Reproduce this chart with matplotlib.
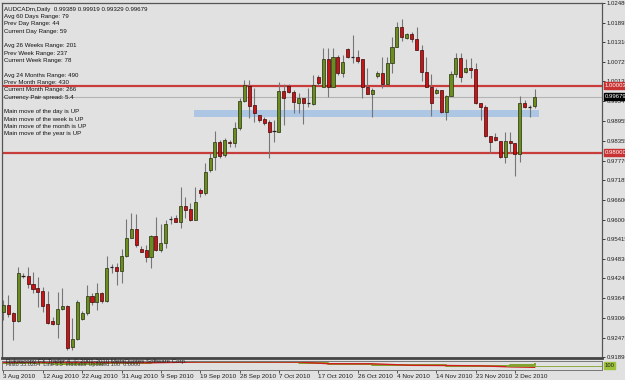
import numpy as np
import matplotlib.pyplot as plt
from matplotlib.patches import Rectangle

plt.rcParams['font.family'] = ['Liberation Sans', 'DejaVu Sans']

# daily AUDCAD candles, 3 Aug 2010 .. 7 Dec 2010
opens = [0.9324, 0.9345, 0.9321, 0.9297, 0.9432, 0.9432, 0.9408, 0.9396, 0.9387, 0.9348,
         0.9297, 0.9288, 0.9333, 0.9342, 0.9219, 0.9243, 0.9303, 0.9321, 0.9372, 0.9354,
         0.9381, 0.9357, 0.9459, 0.9459, 0.9447, 0.9492, 0.9545, 0.9572, 0.9512, 0.9509,
         0.9489, 0.9551, 0.9509, 0.9530, 0.9602, 0.9605, 0.9593, 0.9641, 0.9632, 0.9599,
         0.9689, 0.9680, 0.9749, 0.9788, 0.9832, 0.9794, 0.9832, 0.9829, 0.9874, 0.9955,
         1.0000, 0.9943, 0.9913, 0.9901, 0.9892, 0.9865, 0.9862, 0.9985, 1.0000, 0.9982,
         0.9949, 0.9964, 0.9949, 0.9946, 1.0027, 0.9997, 1.0081, 0.9997, 1.0087, 1.0039,
         1.0110, 1.0087, 1.0087, 1.0081, 0.9997, 0.9976, 1.0030, 1.0039, 1.0006, 1.0069,
         1.0116, 1.0176, 1.0143, 1.0155, 1.0140, 1.0107, 1.0042, 0.9997, 0.9979, 0.9988,
         0.9922, 0.9970, 1.0036, 1.0084, 1.0042, 1.0054, 1.0051, 0.9949, 0.9937, 0.9850,
         0.9847, 0.9835, 0.9788, 0.9835, 0.9829, 0.9797, 0.9949, 0.9937, 0.99389]
highs = [0.9360, 0.9375, 0.9324, 0.9459, 0.9441, 0.9459, 0.9444, 0.9429, 0.9399, 0.9387,
         0.9309, 0.9384, 0.9396, 0.9345, 0.9306, 0.9360, 0.9327, 0.9405, 0.9381, 0.9411,
         0.9384, 0.9492, 0.9468, 0.9471, 0.9512, 0.9602, 0.9620, 0.9617, 0.9521, 0.9524,
         0.9554, 0.9608, 0.9587, 0.9599, 0.9611, 0.9614, 0.9698, 0.9668, 0.9650, 0.9698,
         0.9695, 0.9770, 0.9800, 0.9865, 0.9838, 0.9844, 0.9838, 0.9892, 0.9964, 1.0018,
         1.0018, 0.9994, 0.9913, 0.9907, 0.9898, 0.9898, 1.0012, 1.0006, 1.0006, 0.9988,
         0.9979, 0.9964, 0.9994, 1.0033, 1.0033, 1.0113, 1.0113, 1.0113, 1.0093, 1.0093,
         1.0113, 1.0152, 1.0107, 1.0081, 1.0054, 0.9994, 1.0045, 1.0087, 1.0087, 1.0146,
         1.0191, 1.0200, 1.0158, 1.0161, 1.0176, 1.0122, 1.0087, 1.0036, 0.9994, 0.9988,
         0.9973, 1.0045, 1.0098, 1.0098, 1.0081, 1.0084, 1.0069, 0.9949, 0.9943, 0.9850,
         0.9859, 0.9835, 0.9862, 0.9862, 0.9829, 0.9970, 0.9958, 0.9943, 0.99919]
lows = [0.9300, 0.9309, 0.9240, 0.9294, 0.9426, 0.9396, 0.9381, 0.9339, 0.9324, 0.9288,
        0.9285, 0.9246, 0.9330, 0.9211, 0.9211, 0.9240, 0.9300, 0.9315, 0.9345, 0.9330,
        0.9351, 0.9354, 0.9441, 0.9405, 0.9411, 0.9489, 0.9545, 0.9518, 0.9504, 0.9474,
        0.9456, 0.9507, 0.9504, 0.9515, 0.9587, 0.9593, 0.9575, 0.9605, 0.9596, 0.9599,
        0.9668, 0.9674, 0.9743, 0.9749, 0.9785, 0.9788, 0.9817, 0.9817, 0.9868, 0.9952,
        0.9904, 0.9892, 0.9892, 0.9883, 0.9785, 0.9832, 0.9862, 0.9883, 0.9979, 0.9919,
        0.9919, 0.9886, 0.9937, 0.9943, 1.0003, 0.9997, 0.9967, 0.9997, 1.0033, 1.0027,
        1.0084, 1.0069, 1.0069, 0.9964, 0.9976, 0.9907, 1.0024, 0.9994, 1.0003, 1.0039,
        1.0116, 1.0134, 1.0140, 1.0131, 1.0107, 1.0015, 0.9997, 0.9910, 0.9976, 0.9919,
        0.9898, 0.9970, 1.0027, 1.0012, 1.0039, 1.0024, 0.9946, 0.9898, 0.9847, 0.9800,
        0.9835, 0.9785, 0.9770, 0.9800, 0.9731, 0.9773, 0.9934, 0.9907, 0.99329]
closes = [0.9345, 0.9318, 0.9297, 0.9441, 0.9432, 0.9408, 0.9393, 0.9384, 0.9342, 0.9291,
          0.9288, 0.9333, 0.9342, 0.9217, 0.9243, 0.9354, 0.9321, 0.9372, 0.9354, 0.9381,
          0.9357, 0.9456, 0.9459, 0.9447, 0.9492, 0.9545, 0.9572, 0.9524, 0.9504, 0.9489,
          0.9551, 0.9509, 0.9530, 0.9587, 0.9602, 0.9593, 0.9641, 0.9629, 0.9599, 0.9653,
          0.9680, 0.9743, 0.9785, 0.9832, 0.9791, 0.9838, 0.9829, 0.9874, 0.9955, 1.0003,
          0.9940, 0.9919, 0.9898, 0.9889, 0.9862, 0.9865, 0.9985, 0.9964, 0.9982, 0.9952,
          0.9964, 0.9949, 0.9949, 1.0003, 1.0009, 1.0081, 0.9997, 1.0087, 1.0039, 1.0072,
          1.0087, 1.0087, 1.0075, 0.9997, 0.9976, 0.9988, 1.0039, 1.0006, 1.0069, 1.0116,
          1.0176, 1.0146, 1.0155, 1.0140, 1.0107, 1.0042, 0.9997, 0.9949, 0.9988, 0.9922,
          0.9970, 1.0036, 1.0084, 1.0027, 1.0054, 1.0048, 0.9949, 0.9937, 0.9850, 0.9832,
          0.9838, 0.9788, 0.9835, 0.9829, 0.9797, 0.9949, 0.9937, 0.9937, 0.99679]

date_labels = ['3 Aug 2010', '12 Aug 2010', '22 Aug 2010', '31 Aug 2010', '9 Sep 2010',
               '19 Sep 2010', '28 Sep 2010', '7 Oct 2010', '17 Oct 2010', '26 Oct 2010',
               '4 Nov 2010', '14 Nov 2010', '23 Nov 2010', '2 Dec 2010']
date_bars = [0, 8, 16, 24, 32, 40, 48, 56, 64, 72, 80, 88, 96, 104]

price_ticks = [1.02480, 1.01895, 1.01310, 1.00725, 1.00135, 0.99547, 0.98955, 0.98355,
               0.97770, 0.97185, 0.96600, 0.96000, 0.95415, 0.94830, 0.94245, 0.93645,
               0.93060, 0.92475, 0.91890]

info_lines = ['AUDCADm,Daily  0.99389 0.99919 0.99329 0.99679',
              'Avg 60 Days Range: 79', 'Prev Day Range: 44', 'Current Day Range: 59', '',
              'Avg 26 Weeks Range: 201', 'Prev Week Range: 237', 'Current Week Range: 78', '',
              'Avg 24 Months Range: 490', 'Prev Month Range: 430', 'Current Month Range: 266',
              'Currency Pair spread: 5.4', '',
              'Main move of the day is UP', 'Main move of the week is UP',
              'Main move of the month is UP', 'Main move of the year is UP']

resistance = 1.00003
support = 0.98000
zone_low, zone_high = 0.9907, 0.9928
zone_start, zone_end = 38.8, 108.8

# small indicator sub window
ind_bars = [0, 10, 20, 30, 40, 50, 60, 66, 75, 83, 90, 97, 103, 108]
ind_red = [168, 170, 166, 160, 178, 178, 176, 140, 138, 104, 100, 92, 70, 60]
ind_green = [150, 140, 160, 170, 185, 180, 150, 130, 120, 110, 100, 90, 120, 130]

BG = '#e1e1e1'
BULL = '#6b8c1f'
BEAR = '#c81414'

fig = plt.figure(figsize=(6.25, 3.8), dpi=100, facecolor=BG)
ax = fig.add_axes([2 / 625, 1 - 358 / 380, 600 / 625, 355 / 380], facecolor=BG)
sub = fig.add_axes([2 / 625, 1 - 370 / 380, 600 / 625, 9 / 380], facecolor=BG, sharex=ax)

o = np.array(opens)
h = np.array(highs)
l = np.array(lows)
c = np.array(closes)
x = np.arange(len(o))
up = c >= o

ax.axhline(closes[-1], color='#b4b4b4', lw=0.8, zorder=1)
ax.add_patch(Rectangle((zone_start, zone_low), zone_end - zone_start, zone_high - zone_low,
                       facecolor='#adc6e4', edgecolor='none', zorder=1))
ax.axhline(resistance, color='#c83c3c', lw=1.6, zorder=1)
ax.axhline(support, color='#c83c3c', lw=1.6, zorder=1)

ax.vlines(x, l, h, color='#767676', lw=0.8, zorder=2)
body_lo = np.minimum(o, c)
body_h = np.abs(c - o)
doji = body_h < 0.0002
ax.bar(x[~doji & up], body_h[~doji & up], bottom=body_lo[~doji & up], width=0.62,
       color=BULL, edgecolor='#25300c', lw=0.5, zorder=3)
ax.bar(x[~doji & ~up], body_h[~doji & ~up], bottom=body_lo[~doji & ~up], width=0.62,
       color=BEAR, edgecolor='#3a0808', lw=0.5, zorder=3)
ax.hlines(c[doji], x[doji] - 0.35, x[doji] + 0.35, color='#202020', lw=0.9, zorder=3)

ax.set_xlim(-0.3, 121.7)
ax.set_ylim(0.91866, 1.0248)

ax.yaxis.tick_right()
ax.set_yticks(price_ticks)
ax.set_yticklabels(['%.5f' % v for v in price_ticks])
ax.tick_params(axis='y', direction='out', length=2.5, width=0.6, pad=0.8, labelsize=4.3,
               colors='#202020')
ax.tick_params(axis='x', bottom=False, labelbottom=False)
for s in ['left', 'top', 'right']:
    ax.spines[s].set_color('#555555')
    ax.spines[s].set_linewidth(0.9)
ax.spines['bottom'].set_color('#444444')
ax.spines['bottom'].set_linewidth(2)

for i, line in enumerate(info_lines):
    ax.text(2.5 / 600, 1 - (3.5 + 7.35 * i) / 355, line, transform=ax.transAxes,
            fontsize=4.4, va='top', ha='left', color='#101010')

for val, col in [(resistance, '#c83232'), (closes[-1], '#000000'), (support, '#c83232')]:
    ax.annotate('%.5f' % val, xy=(1.0, val), xycoords=('axes fraction', 'data'),
                xytext=(1.8, 0), textcoords='offset points', fontsize=4.3, color='white',
                va='center', ha='left', zorder=5,
                bbox=dict(boxstyle='square,pad=0.15', facecolor=col, edgecolor=col))

# sub window
sub.plot(ind_bars, ind_green, color='#7ea32a', lw=1.4, drawstyle='steps-post')
sub.plot(ind_bars, ind_red, color='#d21e1e', lw=1.0)
sub.axhline(100, xmin=0.84, color='#7ea32a', lw=0.6)
sub.set_ylim(0, 200)
sub.text(0.5, 185, 'Dukascopy FX Trader 4, \u00a9 2001-2010 MetaQuotes Software Corp.',
         fontsize=4.4, color='#202020', va='center')
sub.text(0.5, 120, 'Histo 55.0284  Line 5.5  Indicator Updated 100  0.0000',
         fontsize=4.0, color='#303030', va='center')
sub.annotate('100', xy=(1.0, 100), xycoords=('axes fraction', 'data'), xytext=(2.0, 0),
             textcoords='offset points', fontsize=4.2, color='#202020', va='center',
             bbox=dict(boxstyle='square,pad=0.1', facecolor='#9cc13a', edgecolor='#9cc13a'))
sub.set_yticks([])
sub.set_xticks(date_bars)
sub.set_xticklabels(date_labels, ha='left')
sub.tick_params(axis='x', direction='out', length=2, width=0.5, pad=1, labelsize=4.6,
                colors='#202020')
for lab in sub.get_xticklabels():
    lab.set_horizontalalignment('left')
for s in sub.spines.values():
    s.set_color('#777777')
    s.set_linewidth(0.7)

fig.savefig('out.png', dpi=100, facecolor=BG)
